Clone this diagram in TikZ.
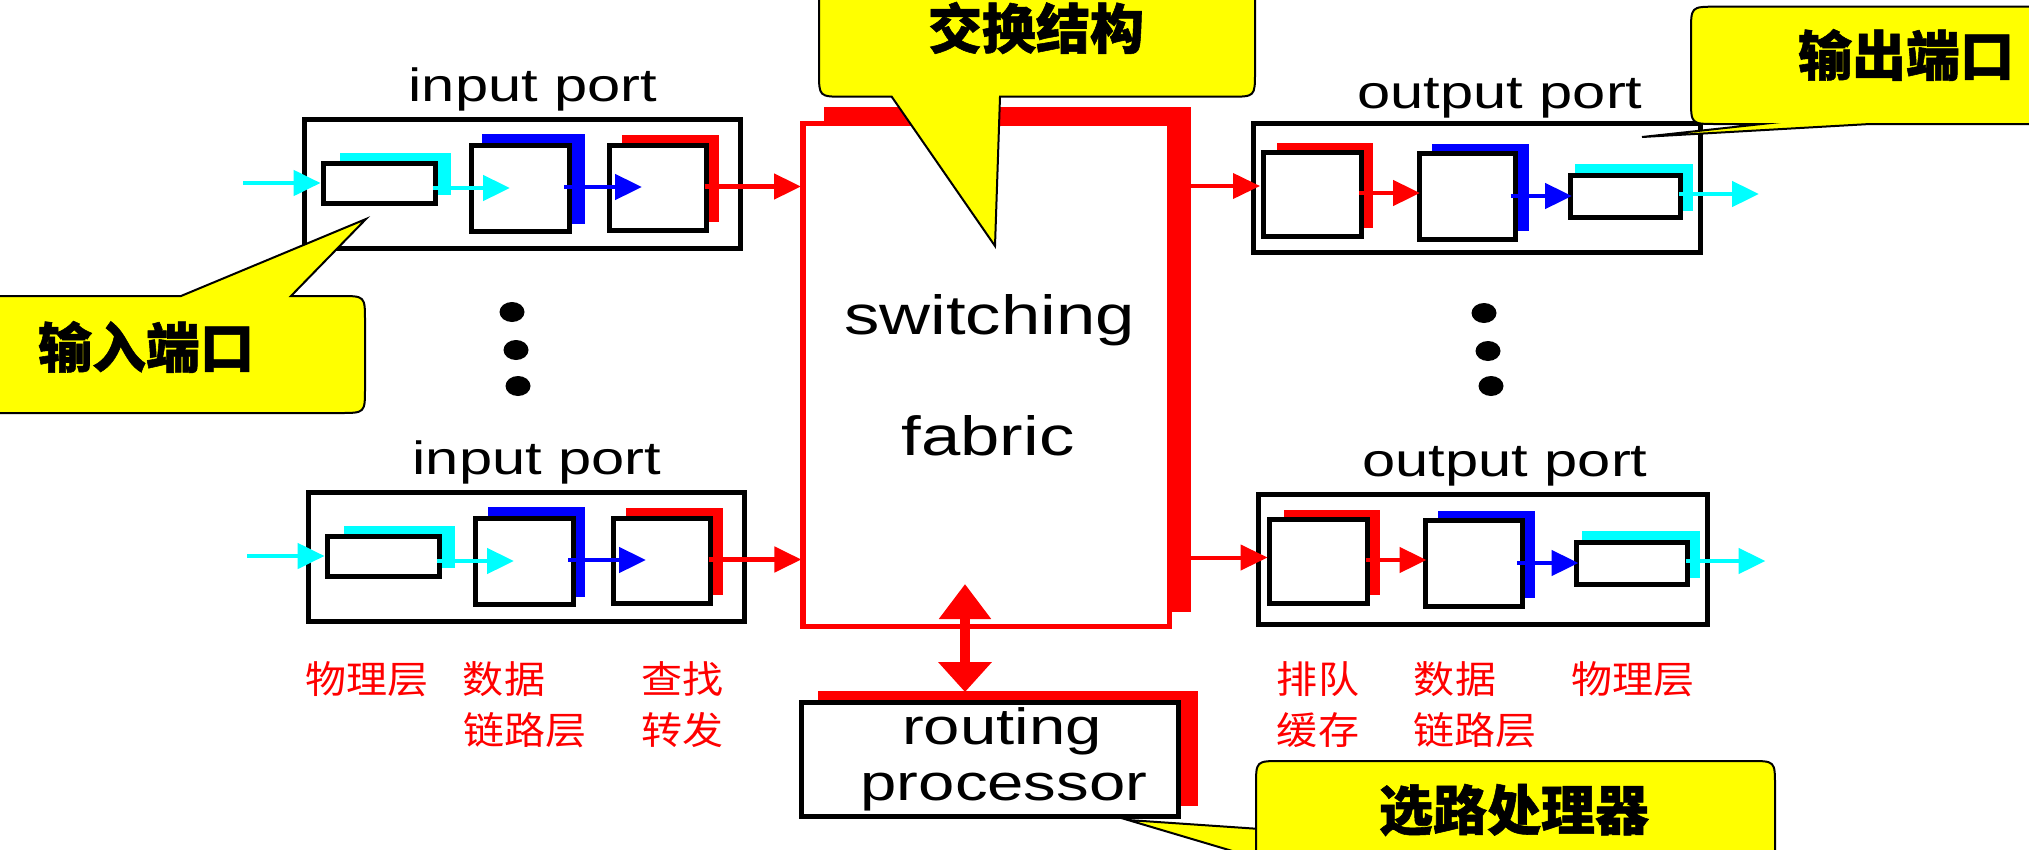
\documentclass[tikz,border=0pt]{standalone}
\usepackage{fontspec}
\usetikzlibrary{arrows.meta,shapes.geometric}
\setmainfont{Liberation Sans}
\newfontfamily\arialw[FakeStretch=1.28]{Liberation Sans}
\newfontfamily\cjkb[BoldFeatures={FakeBold=1}]{Noto Sans CJK SC}
\newfontfamily\cjkr[FakeStretch=1.08]{Noto Sans CJK SC}
\definecolor{cya}{RGB}{0,255,255}
\definecolor{blu}{RGB}{0,0,255}
\definecolor{redd}{RGB}{255,0,0}
\definecolor{yel}{RGB}{255,255,0}
\tikzset{
  frame/.style={draw=black,line width=5pt,inner sep=0pt,outer sep=0pt},
  unit/.style={draw=black,fill=white,line width=5pt,inner sep=0pt,outer sep=0pt},
  shade/.style={fill=#1,inner sep=0pt,outer sep=0pt},
  conn/.style={draw=#1,line width=4.7pt,-{Triangle[length=27pt,width=25pt,inset=0pt]}},
  thinconn/.style={draw=#1,line width=4pt,-{Triangle[length=27pt,width=25pt,inset=0pt]}},
  callout/.style={draw=black,fill=yel,line width=2pt,line join=miter,miter limit=30},
  label/.style={inner sep=0pt,outer sep=0pt,anchor=base,font=\arialw\fontsize{46.6}{47}\selectfont},
  big/.style={inner sep=0pt,outer sep=0pt,anchor=base,font=\arialw\fontsize{55.2}{56}\selectfont},
  mid/.style={inner sep=0pt,outer sep=0pt,anchor=base,font=\arialw\fontsize{51}{51}\selectfont},
  cjkbold/.style={inner sep=0pt,outer sep=0pt,font=\cjkb\bfseries\fontsize{54}{54}\selectfont},
  cjkred/.style={inner sep=0pt,outer sep=0pt,text=redd,font=\cjkr\fontsize{38}{38}\selectfont},
  dot/.style={fill=black,ellipse,inner sep=0pt,outer sep=0pt,minimum width=25pt,minimum height=20pt},
}
% style, name, x1, y1, x2, y2
\newcommand{\nbox}[6]{\node[#1,minimum width={(#5-#3)*1pt},minimum height={(#6-#4)*1pt}] (#2) at ({(#3+#5)/2},{(#4+#6)/2}) {};}
% name, dx, dy, blue-shade x1, blue-shade x2, x of the last arrow's tip
\newcommand{\InPort}[6]{%
\begin{scope}[shift={(#2,#3)}]
  \node[label] (#1lab) at (533,101) {input port};
  \nbox{frame}{#1frame}{304.5}{119.5}{740}{248.5}
  \nbox{shade=cya}{#1s1}{340}{153}{451}{195}
  \nbox{shade=blu}{#1s2}{#4}{134}{#5}{224}
  \nbox{shade=redd}{#1s3}{622}{135}{719}{222}
  \nbox{unit}{#1b1}{323.4}{163}{435.6}{203.8}
  \nbox{unit}{#1b2}{471.4}{145.4}{569.6}{231.6}
  \nbox{unit}{#1b3}{609.4}{145.4}{706.1}{230.6}
  \coordinate (#1a0) at (243,183);   \coordinate (#1a1) at (320.6,183);
  \coordinate (#1a2) at (432.5,188); \coordinate (#1a3) at (510,188);
  \coordinate (#1a4) at (564,187);   \coordinate (#1a5) at (642,187);
  \coordinate (#1a6) at (704.5,186.5); \coordinate (#1a7) at (#6,186.5);
  \draw[conn=cya] (#1a0) -- (#1a1);
  \draw[conn=cya] (#1a2) -- (#1a3);
  \draw[conn=blu] (#1a4) -- (#1a5);
  \draw[conn=redd] (#1a6) -- (#1a7);
\end{scope}}
% name, dx, dy of the inner row
\newcommand{\OutRow}[3]{%
\begin{scope}[shift={(#2,#3)}]
  \nbox{shade=redd}{#1s1}{1277}{143}{1373}{228}
  \nbox{shade=blu}{#1s2}{1431.5}{144}{1528.6}{231}
  \nbox{shade=cya}{#1s3}{1575}{164}{1693}{211}
  \nbox{unit}{#1b1}{1263.4}{152.2}{1361.1}{236.8}
  \nbox{unit}{#1b2}{1419.4}{153.2}{1515.6}{239.8}
  \nbox{unit}{#1b3}{1570.4}{175.2}{1680.6}{217.8}
  \coordinate (#1a2) at (1359,193);  \coordinate (#1a3) at (1420,193);
  \coordinate (#1a4) at (1510.5,196);\coordinate (#1a5) at (1572,196);
  \coordinate (#1a6) at (1679,194);  \coordinate (#1a7) at (1759,194);
  \draw[conn=redd] (#1a2) -- (#1a3);
  \draw[conn=blu] (#1a4) -- (#1a5);
  \draw[conn=cya] (#1a6) -- (#1a7);
\end{scope}}
\begin{document}
\begin{tikzpicture}[x=1pt,y=-1pt]
\useasboundingbox (0,0) rectangle (2029,849);
\clip (0,0) rectangle (2029,849);
\fill[white] (0,0) rectangle (2029,849);

% switching fabric
\nbox{shade=redd}{fabs}{824}{107}{1191}{612}
\nbox{draw=redd,fill=white,line width=5.5pt,inner sep=0pt,outer sep=0pt}{fab}{803}{123.5}{1169.5}{626.5}
\node[big] (sw) at (989.5,334) {switching};
\node[big] (fb) at (988,455) {fabric};

% input ports
\InPort{ia}{0}{0}{482}{585}{801}
\InPort{ib}{4}{373}{483.6}{581}{797.4}

% output ports
\node[label] (oalab) at (1500,108) {output port};
\nbox{frame}{oaframe}{1253.5}{123}{1700}{252.5}
\OutRow{oa}{0}{0}
\coordinate (oain0) at (1185,186);
\coordinate (oain1) at (1260,186);
\draw[thinconn=redd] (oain0) -- (oain1);
\node[label] (oblab) at (1505,476) {output port};
\nbox{frame}{obframe}{1258}{494.5}{1707}{624.2}
\OutRow{ob}{6.5}{367}
\coordinate (obin0) at (1185,557.5);
\coordinate (obin1) at (1267.6,557.5);
\draw[thinconn=redd] (obin0) -- (obin1);

% dots
\node[dot] (d1) at (512,312) {};
\node[dot] (d2) at (516,350) {};
\node[dot] (d3) at (518,386) {};
\node[dot] (d4) at (1484,313) {};
\node[dot] (d5) at (1488,351) {};
\node[dot] (d6) at (1491,386) {};

% routing processor
\nbox{shade=redd}{rps}{818}{691}{1198}{806}
\nbox{draw=black,fill=white,line width=5pt,inner sep=0pt,outer sep=0pt}{rp}{801}{702.5}{1178.5}{816.5}
\node[mid] (r1) at (1002,744) {routing};
\node[mid] (r2) at (1004,800) {processor};
\coordinate (dtop) at (965,584);
\coordinate (dbot) at (965,692);
\draw[draw=redd,line width=10.5pt,{Triangle[length=35pt,width=50pt,inset=0pt]}-{Triangle[length=30pt,width=52pt,inset=0pt]}] (dtop) -- (dbot);

% red labels
\node[cjkred] (t1) at (367,679) {物理层};
\node[cjkred] (t2) at (504,679) {数据};
\node[cjkred] (t3) at (525,730) {链路层};
\node[cjkred] (t4) at (682.5,679) {查找};
\node[cjkred] (t5) at (682.5,730) {转发};
\node[cjkred] (t6) at (1318,679) {排队};
\node[cjkred] (t7) at (1318,730) {缓存};
\node[cjkred] (t8) at (1455,679) {数据};
\node[cjkred] (t9) at (1475,730) {链路层};
\node[cjkred] (t10) at (1633,679) {物理层};

% callouts
\draw[callout] (819,-30) -- (819,72) .. controls (819,96.7) .. (844,96.7) -- (891.7,96.7) -- (995,246) -- (1000,96.7)
  -- (1230,96.7) .. controls (1255,96.7) .. (1255,72) -- (1255,-30) -- cycle;
\node[cjkbold] (c1) at (1036,28) {交换结构};

\draw[callout] (-30,296) -- (181,296) -- (366,219) -- (291,296) -- (340,296) .. controls (365,296) .. (365,321)
  -- (365,388) .. controls (365,413) .. (340,413) -- (-30,413) -- cycle;
\node[cjkbold] (c2) at (146,347) {输入端口};

\draw[callout] (2060,6.7) -- (1716,6.7) .. controls (1691,6.7) .. (1691,32) -- (1691,99) .. controls (1691,124) .. (1716,124)
  -- (1762,124) -- (1642,137) -- (1870,124) -- (2060,124) -- cycle;
\node[cjkbold] (c3) at (1906,55) {输出端口};

\draw[callout] (1256,880) -- (1256,786) .. controls (1256,761) .. (1281,761) -- (1750,761) .. controls (1775,761) .. (1775,786)
  -- (1775,880) -- (1330,880) -- (1128,820) -- (1256,828.7) -- cycle;
\node[cjkbold] (c4) at (1514,810) {选路处理器};
\end{tikzpicture}
\end{document}
